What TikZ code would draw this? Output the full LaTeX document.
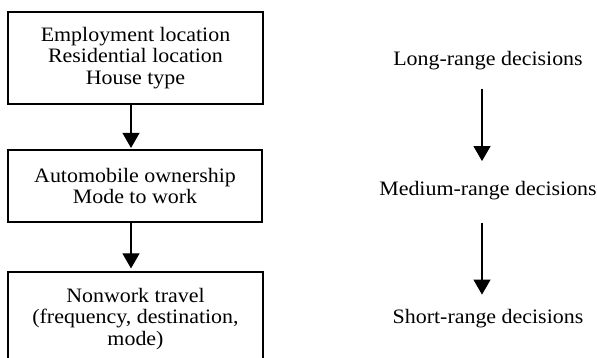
\documentclass[tikz,border=0pt]{standalone}
\usepackage{fontspec}
\setmainfont{Liberation Serif}[FakeStretch=1.07]
\usetikzlibrary{arrows.meta}
\begin{document}
\begin{tikzpicture}[x=1pt,y=-1pt,
  box/.style={draw, line width=1.2pt, minimum width=255pt, inner sep=0pt, align=center,
    font=\fontsize{20.5}{21.7}\selectfont},
  lbl/.style={inner sep=0pt, anchor=base, font=\fontsize{20.5}{21.7}\selectfont},
  arr/.style={line width=1.1pt, -{Triangle[width=17pt,length=15pt]}}]
\useasboundingbox (0,0) rectangle (597,357);
\clip (0,0) rectangle (597,357);
\node[box, minimum height=92pt] (b1) at (135.5,58) {Employment location\\Residential location\\House type};
\node[box, minimum height=72pt, minimum width=254pt] (b2) at (135,186) {Automobile ownership\\Mode to work};
\node[box, minimum height=94pt] (b3) at (135.5,319) {Nonwork travel\\(frequency, destination,\\mode)};
\node[lbl] (long) at (488,65) {Long-range decisions};
\node[lbl] (med) at (488,195) {Medium-range decisions};
\node[lbl] (short) at (488,323) {Short-range decisions};
\draw[arr, shorten >=1.5pt] ([xshift=-4.5pt]b1.south) -- ([xshift=-4pt]b2.north);
\draw[arr, shorten >=3pt] ([xshift=-4pt]b2.south) -- ([xshift=-4.5pt]b3.north);
\draw[arr, shorten <=19pt, shorten >=19.5pt] ([xshift=-6pt]long.south) -- ([xshift=-6pt]med.north);
\draw[arr, shorten <=23pt, shorten >=14pt] ([xshift=-6pt]med.south) -- ([xshift=-6pt]short.north);
\end{tikzpicture}
\end{document}
